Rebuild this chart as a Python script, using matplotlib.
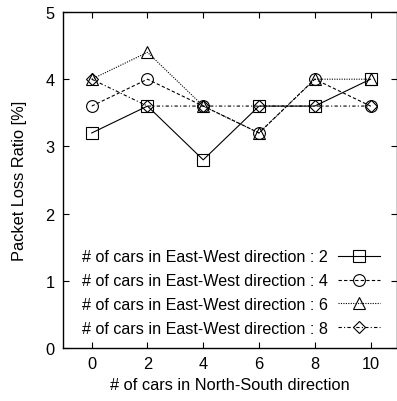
import matplotlib
matplotlib.use("Agg")
import matplotlib.pyplot as plt

plt.rcParams['font.family'] = ['Liberation Sans', 'DejaVu Sans']

x = [0, 2, 4, 6, 8, 10]
ew2 = [3.2, 3.6, 2.8, 3.6, 3.6, 4.0]
ew4 = [3.6, 4.0, 3.6, 3.2, 4.0, 3.6]
ew6 = [4.0, 4.4, 3.6, 3.2, 4.0, 4.0]
ew8 = [4.0, 3.6, 3.6, 3.6, 3.6, 3.6]
labels = ["# of cars in East-West direction : 2",
          "# of cars in East-West direction : 4",
          "# of cars in East-West direction : 6",
          "# of cars in East-West direction : 8"]

fig = plt.figure(figsize=(3.97, 4.02), dpi=100)
ax = fig.add_axes([63/397, 1-349/402, 334/397, 336/402])

styles = [('s', '-'), ('o', (0, (3, 2))), ('^', (0, (1, 1.2))), ('D', (0, (3, 2, 1, 2)))]
sizes = [8, 8.5, 8.5, 6.5]
for ys, (m, ls), lab, ms in zip([ew2, ew4, ew6, ew8], styles, labels, sizes):
    ax.plot(x, ys, color='black', linestyle=ls, linewidth=0.8, marker=m,
            markersize=ms, markerfacecolor='none', markeredgecolor='black',
            markeredgewidth=0.8, label=lab)

ax.set_xlim(-1.03, 10.95)
ax.set_ylim(0, 5)
ax.set_xticks(x)
ax.set_yticks([0, 1, 2, 3, 4, 5])
ax.tick_params(direction='in', length=4, width=0.8, labelsize=11.8, top=True, right=True,
               pad=6)
for s in ax.spines.values():
    s.set_linewidth(1.0)
ax.set_xlabel("# of cars in North-South direction", fontsize=11.8, labelpad=4)
ax.set_ylabel("Packet Loss Ratio [%]", fontsize=11.8, labelpad=13)

ax.legend(loc='lower right', frameon=False, markerfirst=False, fontsize=11.6,
          handlelength=2.6, handletextpad=0.65, labelspacing=0.55,
          borderaxespad=0.35, bbox_to_anchor=(0.985, 0.0))

fig.savefig("out.png", dpi=100)
